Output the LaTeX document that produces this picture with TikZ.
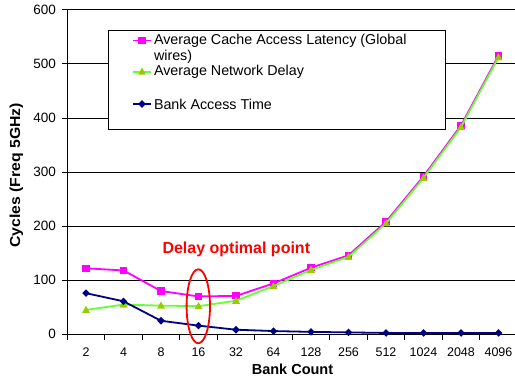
\documentclass[tikz,border=0pt]{standalone}
\usepackage{fontspec}
\setmainfont{Liberation Sans}
\definecolor{cmag}{HTML}{FF00FF}
\definecolor{cgreen}{HTML}{66FF33}
\definecolor{colive}{HTML}{99CC00}
\definecolor{cnavy}{HTML}{000080}
\begin{document}
\begin{tikzpicture}[x=1pt,y=-1pt,
  grid/.style={black,line width=0.8pt},
  ticklab/.style={font=\fontsize{13.5}{14}\selectfont,anchor=east,inner sep=0pt},
  xlab/.style={font=\fontsize{12.5}{13}\selectfont,anchor=center,inner sep=0pt},
  sermag/.style={cmag,line width=1.8pt,line join=round},
  sergreen/.style={cgreen,line width=1.8pt,line join=round},
  sernavy/.style={cnavy,line width=1.8pt,line join=round},
  legtext/.style={font=\fontsize{14.3}{15}\selectfont,anchor=west,inner sep=0pt,align=left}]
\useasboundingbox (0,0) rectangle (515,383);
% grid lines and y ticks
\foreach \v/\lab in {0/0,100/100,200/200,300/300,400/400,500/500,600/600}{
  \draw[grid] (62,{334.3-0.541*\v}) -- (518,{334.3-0.541*\v});
  \node[ticklab] (yl\v) at (56,{334.3-0.541*\v}) {\lab};
}
% axes
\draw[black,line width=0.9pt] (67.3,9.7) -- (67.3,339);
\draw[black,line width=1.3pt] (67.3,334.3) -- (518,334.3);
\foreach \k in {0,...,12}{
  \draw[black,line width=0.8pt] ({67.3+37.5*\k},334.3) -- ({67.3+37.5*\k},339.5);
}
% x labels
\foreach \lab [count=\i from 0] in {2,4,8,16,32,64,128,256,512,1024,2048,4096}{
  \node[xlab] (xl\i) at ({86+37.5*\i},352.5) {\lab};
}
\node[font=\bfseries\fontsize{14.5}{15}\selectfont,inner sep=0pt] (xtitle) at (292.5,369.5) {Bank Count};
\node[font=\bfseries\fontsize{14.5}{15}\selectfont,inner sep=0pt,rotate=90] (ytitle) at (16.5,175.5) {\scalebox{1.09}[1]{Cycles (Freq 5GHz)}};
% data
\begin{scope}[shift={(86,334.3)},x=37.5pt,y=0.541pt]
  \draw[sermag] plot coordinates {(0,122) (1,118) (2,80) (3,70) (4,71) (5,94) (6,123) (7,146) (8,208) (9,292) (10,386) (11,515)};
  \foreach \i/\v in {0/122,1/118,2/80,3/70,4/71,5/94,6/123,7/146,8/208,9/292,10/386,11/515}{
    \fill[cmag] (\i,\v) ++(-3.6pt,-3.6pt) rectangle ++(7.2pt,7.2pt);
  }
  \draw[sergreen] plot coordinates {(0,45) (1,55) (2,53) (3,52) (4,62) (5,89) (6,119) (7,143) (8,205) (9,289) (10,383) (11,512)};
  \foreach \i/\v in {0/45,1/55,2/53,3/52,4/62,5/89,6/119,7/143,8/205,9/289,10/383,11/512}{
    \fill[colive] (\i,\v) ++(0,4.2pt) -- ++(-4pt,-7.2pt) -- ++(8pt,0) -- cycle;
  }
  \draw[sernavy] plot coordinates {(0,76) (1,61) (2,25) (3,16) (4,8.5) (5,6) (6,4.5) (7,3.5) (8,2.5) (9,2.5) (10,2.5) (11,2.5)};
  \foreach \i/\v in {0/76,1/61,2/25,3/16,4/8.5,5/6,6/4.5,7/3.5,8/2.5,9/2.5,10/2.5,11/2.5}{
    \fill[cnavy] (\i,\v) ++(0,3.8pt) -- ++(3.8pt,-3.8pt) -- ++(-3.8pt,-3.8pt) -- ++(-3.8pt,3.8pt) -- cycle;
  }
\end{scope}
% annotation
\node[red,font=\bfseries\fontsize{16}{17}\selectfont,inner sep=0pt] (anno) at (236.3,249.3) {Delay optimal point};
\draw[red,line width=1.8pt] (198.3,306.3) ellipse [x radius=11.7, y radius=37];
% legend
\draw[black,line width=0.9pt,fill=white] (108.3,30.3) rectangle (445,129);
\draw[cmag,line width=1.8pt] (133.3,40.5) -- (150.7,40.5);
\fill[cmag] (138.4,36.9) rectangle (145.6,44.1);
\node[legtext] (l1) at (153.8,40.5) {Average Cache Access Latency (Global};
\node[legtext] (l1b) at (153.8,56.7) {wires)};
\draw[cgreen,line width=1.8pt] (133.3,71.7) -- (150.7,71.7);
\fill[colive] (142,67.5) -- (138,74.7) -- (146,74.7) -- cycle;
\node[legtext] (l2) at (153.8,71.7) {Average Network Delay};
\draw[cnavy,line width=1.8pt] (133.3,104) -- (150.7,104);
\fill[cnavy] (142,100.2) -- (145.8,104) -- (142,107.8) -- (138.2,104) -- cycle;
\node[legtext] (l3) at (153.8,104) {Bank Access Time};
\end{tikzpicture}
\end{document}
